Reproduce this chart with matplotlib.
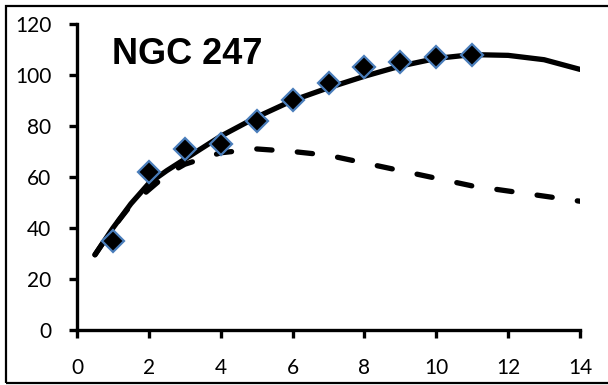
import numpy as np
import matplotlib.pyplot as plt
from matplotlib.patches import Rectangle

# observed rotation velocities
radius = [1, 2, 3, 4, 5, 6, 7, 8, 9, 10, 11]
velocity = [35, 62, 71, 73, 82, 90, 97, 103, 105, 107, 108]

# model curves: total (solid) and disk-only (dashed)
model_r = [0.5, 1, 1.5, 2, 2.5, 3, 4, 5, 6, 7, 8, 9, 10, 11, 12, 13, 14]
model_total = [29.5, 40, 49.5, 57.5, 62.5, 67, 76, 83.5, 90, 95, 99.5,
               103.5, 106.5, 108, 107.7, 106, 102.2]
model_disk = [29.5, 40, 49, 55, 61, 65, 69.5, 71, 70, 68.5, 65.5,
              62.5, 59.5, 56.5, 54.5, 52.5, 50.5]

xticks = [0, 2, 4, 6, 8, 10, 12, 14]
yticks = [0, 20, 40, 60, 80, 100, 120]

fig = plt.figure(figsize=(6.08, 3.85), dpi=100)
ax = fig.add_axes([77 / 608, 1 - 330 / 385, 503 / 608, 306 / 385])

ax.plot(model_r, model_total, color='black', lw=3.8, solid_capstyle='round',
        solid_joinstyle='round')
ax.plot(model_r, model_disk, color='black', lw=3.8, dashes=(2.9, 4.8),
        dash_capstyle='round')
ax.plot(radius, velocity, linestyle='none', marker='D', markersize=11.5,
        markerfacecolor='black', markeredgecolor='#4a7ebb', markeredgewidth=1.6)

ax.set_xlim(0, 14)
ax.set_ylim(0, 120)
ax.set_xticks(xticks)
ax.set_yticks(yticks)
for side in ['top', 'right']:
    ax.spines[side].set_visible(False)
for side in ['left', 'bottom']:
    ax.spines[side].set_linewidth(2.4)
ax.tick_params(direction='out', length=5.5, width=2.4, labelsize=15,
               colors='black')
ax.tick_params(axis='y', pad=13)
ax.tick_params(axis='x', pad=15)
for lab in ax.get_xticklabels() + ax.get_yticklabels():
    lab.set_family('Lato')

ax.text(112 / 608, 1 - 55 / 385, 'NGC 247', transform=fig.transFigure,
        family='Liberation Sans', fontweight='bold', fontsize=26,
        ha='left', va='center')

# chart border
fig.patches.append(Rectangle((5.5 / 608, 1 - 383 / 385), 1.0, 377 / 385,
                             transform=fig.transFigure, fill=False,
                             edgecolor='black', lw=1.6))

fig.savefig('out.png', dpi=100)
